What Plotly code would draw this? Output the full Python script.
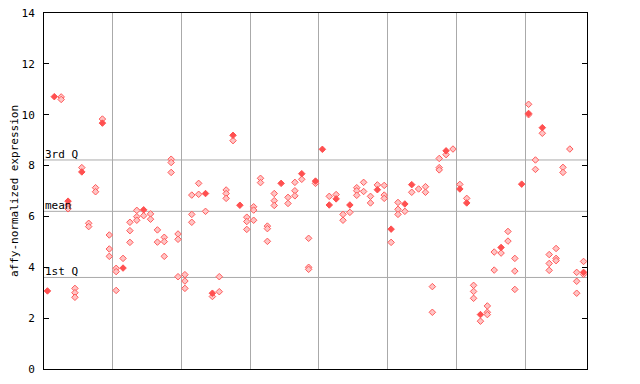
import plotly.graph_objects as go

# sample positions (columns) along x
samples = list(range(79))

# replicate values drawn as light (checkered) diamonds, per sample
open_vals = [
    [], [], [10.7, 10.6], [6.45, 6.3], [3.17, 3.0, 2.82],
    [7.92], [5.73, 5.6], [7.13, 6.97], [9.83], [5.27, 4.72, 4.43],
    [3.96, 3.83, 3.09], [4.35], [5.77, 5.44, 4.98], [6.24, 5.99, 5.85], [6.03],
    [6.1, 5.89], [5.47, 4.99], [5.18, 5.01, 4.43], [8.25, 8.12, 7.73], [5.31, 5.1, 3.63],
    [3.71, 3.46, 3.17], [6.84, 6.08, 5.77], [7.3, 6.87], [6.2], [2.85],
    [3.63, 3.04], [7.04, 6.9, 6.71], [8.98], [], [5.97, 5.8, 5.49],
    [6.38, 6.25, 5.85], [7.5, 7.33], [5.62, 5.52, 5.02], [6.9, 6.62, 6.43], [],
    [6.75, 6.51], [7.34, 7.01, 6.81], [7.46], [5.14, 4.0, 3.92], [7.3],
    [], [6.79], [6.86], [6.08, 5.85], [6.16],
    [7.13, 7.01, 6.83], [7.34, 6.98], [6.79, 6.53], [7.24], [7.22, 6.84, 6.71],
    [4.98], [6.55, 6.28, 6.08], [6.2], [6.95], [7.08],
    [7.17, 6.95], [3.24, 2.23], [8.28, 7.92, 7.83], [8.43], [8.65],
    [7.26], [6.71], [3.29, 3.05, 2.78], [1.88], [2.48, 2.23, 2.14],
    [4.6, 3.89], [4.56], [5.41, 5.03], [4.35, 3.85, 3.13], [],
    [10.41, 10.0], [8.22, 7.85], [9.27], [4.5, 4.15, 3.88], [4.74, 4.35, 4.26],
    [7.93, 7.73], [8.65], [3.8, 3.45, 2.98], [4.23, 3.72],
]

# highlighted value per sample (solid diamond), None when absent
filled_vals = [
    3.07, 10.71, None, 6.6, None, 7.75, None, None, 9.67, None,
    None, 3.97, None, None, 6.26, None, None, None, None, None,
    None, None, None, 6.9, 2.98, None, None, 9.19, 6.44, None,
    None, None, None, None, 7.3, None, None, 7.68, None, 7.39,
    8.64, 6.45, 6.69, None, 6.45, None, None, None, 7.05, None,
    5.5, None, 6.49, 7.25, None, None, None, None, 8.58, None,
    7.08, 6.53, None, 2.14, None, None, 4.78, None, None, 7.27,
    10.05, None, 9.49, None, None, None, None, None, 3.8,
]

ref_names = ["3rd Q", "mean", "1st Q"]
ref_values = [8.22, 6.2, 3.6]

group_bounds = [9.5, 19.5, 29.5, 39.5, 49.5, 59.5, 69.5]
y_ticks = [0, 2, 4, 6, 8, 10, 12, 14]

ox, oy = [], []
for s, vals in zip(samples, open_vals):
    for v in vals:
        ox.append(s)
        oy.append(v)
fx = [s for s, v in zip(samples, filled_vals) if v is not None]
fy = [v for v in filled_vals if v is not None]

fig = go.Figure()
fig.add_trace(go.Scatter(
    x=ox, y=oy, mode="markers",
    marker=dict(symbol="diamond", size=5, color="#ffc4c4",
                line=dict(color="#ff5a5a", width=1)),
    hoverinfo="y", showlegend=False))
fig.add_trace(go.Scatter(
    x=fx, y=fy, mode="markers",
    marker=dict(symbol="diamond", size=5, color="#ff5050",
                line=dict(color="#ff5050", width=1)),
    hoverinfo="y", showlegend=False))

for name, val in zip(ref_names, ref_values):
    fig.add_shape(type="line", xref="paper", x0=0, x1=1, yref="y", y0=val, y1=val,
                  line=dict(color="#aaaaaa", width=1), layer="below")
    fig.add_annotation(xref="paper", x=0, y=val, yref="y", text=name,
                       showarrow=False, xanchor="left", yanchor="bottom",
                       xshift=-1, yshift=-3,
                       font=dict(family="DejaVu Sans Mono", size=11, color="black"))

fig.update_layout(
    width=640, height=384,
    margin=dict(l=36, r=61, t=5, b=23),
    paper_bgcolor="white", plot_bgcolor="white",
    font=dict(family="DejaVu Sans Mono", size=11, color="black"),
    xaxis=dict(range=[-0.5, 78.5], tickvals=group_bounds, showticklabels=False,
               ticks="", showgrid=True, gridcolor="#aaaaaa", gridwidth=1,
               zeroline=False, showline=True, linecolor="black", linewidth=1,
               mirror=True, automargin=False),
    yaxis=dict(range=[0, 14], tickvals=y_ticks, ticks="inside", ticklen=5,
               tickcolor="black", showgrid=False, zeroline=False,
               showline=True, linecolor="black", linewidth=1, mirror="ticks",
               ticklabelstandoff=6, automargin=False, ticklabeloverflow="allow",
               title=dict(text="affy-normalized expression", standoff=8,
                          font=dict(family="DejaVu Sans Mono", size=11))),
)

fig.write_html("out.html")
